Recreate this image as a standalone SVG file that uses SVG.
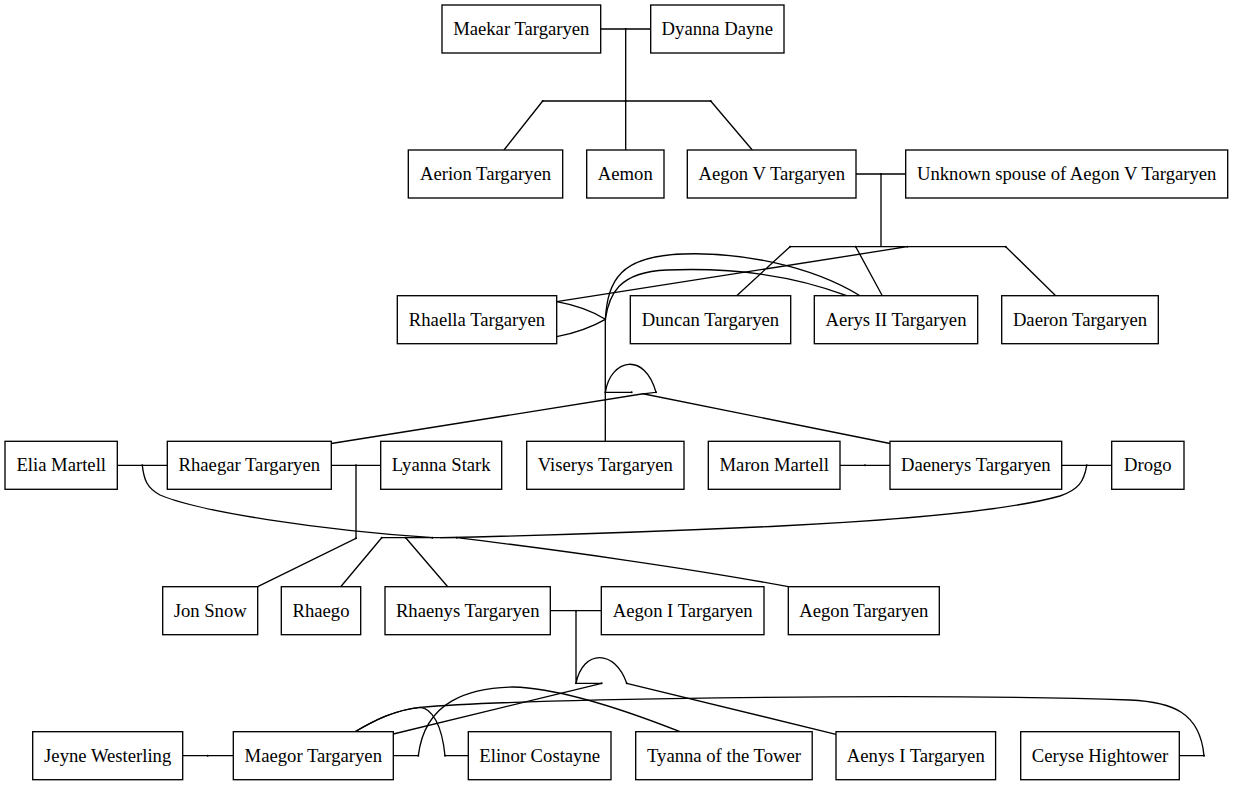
<svg xmlns="http://www.w3.org/2000/svg" width="1233" height="785" viewBox="0 0 1233 785">
<style>
rect.n{fill:#fff;stroke:#000;stroke-width:1.33}
text{font-family:"Liberation Serif","Times New Roman",serif;font-size:18.67px;text-anchor:middle;fill:#000}
#edges path{fill:none;stroke:#000;stroke-width:1.33}
#edges circle{fill:#000}
</style>
<rect width="1233" height="785" fill="#fff"/>
<g id="edges">
<path d="M600.7,29 L650.7,29 M625.7,29 L625.7,101 M542.7,101 L710.7,101 M542.7,101 L504,150 M625.7,101 L625.7,150 M710.7,101 L752.3,150"/>
<path d="M856,174 L905.7,174 M881,174 L881,246.7 M790,246.7 L1005.7,246.7 M790,246.7 L736.7,295.7 M855.7,246.7 L882.3,295.7 M1005.7,246.7 L1055.7,295.7 M907.3,246.7 L556.7,301.7"/>
<path d="M556.7,301.7 C575,305 592,311 605.3,319.3 M556.7,336.7 C575,333 592,327 605.3,319.3"/>
<path d="M605.3,319.3 C608,280 620,256 683,254 C740,252 810,265 860,295.7"/>
<path d="M605.3,319.3 C609,295 618,272 666.7,270 C740,267 800,278 846.7,295.7"/>
<path d="M605.3,319.3 L605.3,441.3 M605.3,392.3 L631.7,392.3 M605.3,392.3 C611,358 645,352 656,392.3 L643,393.8 M331.3,443.5 L643,393.8 L890,443.5"/>
<path d="M117.3,465.3 L167.3,465.3 M331.3,465.3 L380.7,465.3 M840,465.3 L890,465.3 M1061.7,465.3 L1111.7,465.3"/>
<path d="M356,465.3 L356,538.3 L257.7,586.7"/>
<path d="M142.3,465.3 C144,480 147,488 160,495 C200,512 320,530 433,537.7"/>
<path d="M1086.7,465.3 C1084,482 1078,490 1060,496 C1010,510 900,520 780,526 C650,532 520,536 440,537.7"/>
<path d="M381.7,537.7 L456.7,537.7 M381.7,537.7 L340.7,586.7 M405.7,537.7 L447.7,586.7 M456.7,537.7 C560,550 700,570 788.3,586.7"/>
<path d="M550.3,610.7 L601.3,610.7 M576,610.7 L576,683.3 L601.7,683.3 M576,683.3 C583,649 615,649 626.7,683.3 M393.3,734 L601.7,683.3 M626.7,683.3 L836,734.3"/>
<path d="M182.7,755.7 L233.3,755.7 M393.3,755.7 L418.3,755.7 M445,755.7 L468.3,755.7 M1179.3,755.7 L1204,755.7"/>
<path d="M355,731.7 C375,720 395,710 420,707.3 C432,708 442,725 445,755.7"/>
<path d="M355,731.7 C375,720 395,710 420,707.3 C500,700 900,692 1130,700 C1172,702 1200,712 1204,755.7"/>
<path d="M418.3,755.7 C425,700 470,688 513,687 C560,688 630,712 680,731.7"/>
<circle cx="625.7" cy="29" r="1"/><circle cx="542.7" cy="101" r="1"/><circle cx="625.7" cy="101" r="1"/><circle cx="710.7" cy="101" r="1"/>
<circle cx="881" cy="174" r="1"/><circle cx="790" cy="246.7" r="1"/><circle cx="855.7" cy="246.7" r="1"/><circle cx="907.3" cy="246.7" r="1"/><circle cx="1005.7" cy="246.7" r="1"/>
<circle cx="605.3" cy="319.3" r="1"/><circle cx="605.3" cy="392.3" r="1"/><circle cx="631.7" cy="392.3" r="1"/><circle cx="656" cy="392.3" r="1"/>
<circle cx="142.3" cy="465.3" r="1"/><circle cx="356" cy="465.3" r="1"/><circle cx="865" cy="465.3" r="1"/><circle cx="1086.7" cy="465.3" r="1"/>
<circle cx="356" cy="538.3" r="1"/><circle cx="381.7" cy="537.7" r="1"/><circle cx="405.7" cy="537.7" r="1"/><circle cx="432.3" cy="537.7" r="1"/><circle cx="456.7" cy="537.7" r="1"/>
<circle cx="576" cy="610.7" r="1"/><circle cx="576" cy="683.3" r="1"/><circle cx="601.7" cy="683.3" r="1"/><circle cx="626.7" cy="683.3" r="1"/>
<circle cx="207.7" cy="755.7" r="1"/><circle cx="418.3" cy="755.7" r="1"/><circle cx="445" cy="755.7" r="1"/><circle cx="1204" cy="755.7" r="1"/>
</g>
<g id="maekar"><rect class="n" x="442" y="5" width="158.7" height="48"/><text x="521.3" y="35">Maekar Targaryen</text></g>
<g id="dyanna"><rect class="n" x="650.7" y="5" width="133.3" height="48"/><text x="717.3" y="35">Dyanna Dayne</text></g>
<g id="aerion"><rect class="n" x="408.3" y="150" width="154.4" height="48"/><text x="485.5" y="180">Aerion Targaryen</text></g>
<g id="aemon"><rect class="n" x="586.7" y="150" width="77.3" height="48"/><text x="625.3" y="180">Aemon</text></g>
<g id="aegonv"><rect class="n" x="687.3" y="150" width="168.7" height="48"/><text x="771.7" y="180">Aegon V Targaryen</text></g>
<g id="unknown"><rect class="n" x="905.7" y="150" width="322" height="48"/><text x="1066.7" y="180">Unknown spouse of Aegon V Targaryen</text></g>
<g id="rhaella"><rect class="n" x="397.3" y="295.7" width="159.4" height="48"/><text x="477" y="325.7">Rhaella Targaryen</text></g>
<g id="duncan"><rect class="n" x="630.3" y="295.7" width="160.4" height="48"/><text x="710.5" y="325.7">Duncan Targaryen</text></g>
<g id="aerys"><rect class="n" x="814.3" y="295.7" width="163.4" height="48"/><text x="896" y="325.7">Aerys II Targaryen</text></g>
<g id="daeron"><rect class="n" x="1001.7" y="295.7" width="156.6" height="48"/><text x="1080" y="325.7">Daeron Targaryen</text></g>
<g id="elia"><rect class="n" x="5" y="441.3" width="112.3" height="48"/><text x="61.2" y="471.3">Elia Martell</text></g>
<g id="rhaegar"><rect class="n" x="167.3" y="441.3" width="164" height="48"/><text x="249.3" y="471.3">Rhaegar Targaryen</text></g>
<g id="lyanna"><rect class="n" x="380.7" y="441.3" width="121" height="48"/><text x="441.2" y="471.3">Lyanna Stark</text></g>
<g id="viserys"><rect class="n" x="526.7" y="441.3" width="157.3" height="48"/><text x="605.3" y="471.3">Viserys Targaryen</text></g>
<g id="maron"><rect class="n" x="708.3" y="441.3" width="131.7" height="48"/><text x="774.2" y="471.3">Maron Martell</text></g>
<g id="daenerys"><rect class="n" x="890" y="441.3" width="171.7" height="48"/><text x="975.8" y="471.3">Daenerys Targaryen</text></g>
<g id="drogo"><rect class="n" x="1111.7" y="441.3" width="72.3" height="48"/><text x="1147.8" y="471.3">Drogo</text></g>
<g id="jon"><rect class="n" x="162.7" y="586.7" width="95" height="48"/><text x="210.2" y="616.7">Jon Snow</text></g>
<g id="rhaego"><rect class="n" x="281.3" y="586.7" width="79.4" height="48"/><text x="321" y="616.7">Rhaego</text></g>
<g id="rhaenys"><rect class="n" x="385" y="586.7" width="165.3" height="48"/><text x="467.7" y="616.7">Rhaenys Targaryen</text></g>
<g id="aegoni"><rect class="n" x="601.3" y="586.7" width="162.7" height="48"/><text x="682.7" y="616.7">Aegon I Targaryen</text></g>
<g id="aegon"><rect class="n" x="788.3" y="586.7" width="151" height="48"/><text x="863.8" y="616.7">Aegon Targaryen</text></g>
<g id="jeyne"><rect class="n" x="32.7" y="731.7" width="150" height="48"/><text x="107.7" y="761.7">Jeyne Westerling</text></g>
<g id="maegor"><rect class="n" x="233.3" y="731.7" width="160" height="48"/><text x="313.3" y="761.7">Maegor Targaryen</text></g>
<g id="elinor"><rect class="n" x="468.3" y="731.7" width="142.7" height="48"/><text x="539.7" y="761.7">Elinor Costayne</text></g>
<g id="tyanna"><rect class="n" x="635.7" y="731.7" width="176.5" height="48"/><text x="724" y="761.7">Tyanna of the Tower</text></g>
<g id="aenys"><rect class="n" x="836" y="731.7" width="159.6" height="48"/><text x="915.8" y="761.7">Aenys I Targaryen</text></g>
<g id="ceryse"><rect class="n" x="1020.7" y="731.7" width="158.6" height="48"/><text x="1100" y="761.7">Ceryse Hightower</text></g>
</svg>
